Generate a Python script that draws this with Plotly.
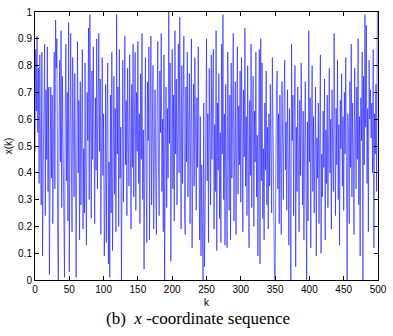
import plotly.graph_objects as go

x_k000 = [0.48, 0.86, 0.63, 0.91, 0.55, 0.79, 0.36, 0.84, 0.52, 0.28, 0.85, 0.09, 0.41, 0.66, 0.88, 0.24, 0.71, 0.45, 0.87, 0.33,
          0.72, 0.02, 0.64, 0.72, 0.38, 0.69, 0.21, 0.55, 0.85, 0.34, 0.97, 0.79, 0.90, 0.16, 0.00, 0.58, 0.82, 0.44, 0.93, 0.27,
          0.76, 0.49, 0.12, 0.01, 0.63, 0.88, 0.37, 0.70, 0.22, 0.96]
x_k050 = [0.03, 0.71, 0.92, 0.46, 0.18, 0.83, 0.59, 0.31, 0.77, 0.08, 0.01, 0.54, 0.89, 0.40, 0.67, 0.15, 0.74, 0.28, 0.61, 0.86,
          0.19, 0.49, 0.25, 0.81, 0.36, 0.13, 0.70, 0.52, 0.94, 0.30, 0.99, 0.62, 0.23, 0.78, 0.45, 0.87, 0.57, 0.21, 0.68, 0.41,
          0.90, 0.34, 0.63, 0.92, 0.48, 0.75, 0.17, 0.56, 0.83, 0.39]
x_k100 = [0.62, 0.09, 0.27, 0.73, 0.14, 0.58, 0.81, 0.06, 0.44, 0.01, 0.69, 0.25, 0.85, 0.11, 0.52, 0.76, 0.32, 0.64, 0.18, 0.99,
          0.47, 0.72, 0.20, 0.86, 0.38, 0.57, 0.00, 0.66, 0.82, 0.29, 0.54, 0.91, 0.43, 0.67, 0.24, 0.79, 0.51, 0.35, 0.84, 0.60,
          0.19, 0.73, 0.42, 0.88, 0.31, 0.62, 0.85, 0.26, 0.70, 0.48]
x_k150 = [0.89, 0.36, 0.62, 0.21, 0.77, 0.45, 0.92, 0.30, 0.56, 0.04, 0.68, 0.83, 0.39, 0.14, 0.74, 0.52, 0.87, 0.15, 0.63, 0.91,
          0.28, 0.57, 0.80, 0.19, 0.46, 0.71, 0.35, 0.17, 0.66, 0.89, 0.42, 0.24, 0.78, 0.55, 0.92, 0.33, 0.60, 0.18, 0.84, 0.00,
          0.47, 0.72, 0.27, 0.64, 0.38, 1.00, 0.51, 0.81, 0.07, 0.58]
x_k200 = [0.86, 0.34, 0.69, 0.22, 0.93, 0.47, 0.75, 0.28, 0.61, 0.88, 0.40, 0.98, 0.53, 0.19, 0.80, 0.36, 0.67, 0.91, 0.25, 0.17,
          0.72, 0.44, 0.85, 0.31, 0.58, 0.77, 0.21, 0.64, 0.90, 0.12, 0.49, 0.73, 0.35, 0.83, 0.56, 0.26, 0.68, 0.42, 0.87, 0.30,
          0.15, 0.61, 0.09, 0.43, 0.18, 0.00, 0.66, 0.05, 0.22, 0.71]
x_k250 = [0.90, 0.37, 0.62, 0.14, 0.79, 0.51, 0.28, 0.84, 0.45, 0.70, 0.86, 0.19, 0.58, 0.33, 0.93, 0.11, 0.66, 0.41, 0.77, 0.23,
          0.55, 0.14, 0.88, 0.47, 0.99, 0.30, 0.62, 0.13, 0.73, 0.40, 0.12, 0.85, 0.52, 0.26, 0.69, 0.15, 0.81, 0.38, 0.60, 0.92,
          0.22, 0.48, 0.74, 0.17, 0.57, 0.87, 0.32, 0.65, 0.43, 0.78]
x_k300 = [0.29, 0.83, 0.55, 0.18, 0.71, 0.46, 0.94, 0.35, 0.61, 0.24, 0.80, 0.50, 0.12, 0.67, 0.39, 0.88, 0.27, 0.58, 0.76, 0.20,
          0.63, 0.44, 0.85, 0.31, 0.54, 0.09, 0.72, 0.86, 0.06, 0.90, 0.37, 0.81, 0.23, 0.49, 0.15, 0.66, 0.41, 0.78, 0.28, 0.57,
          0.19, 0.62, 0.35, 0.73, 0.47, 0.25, 0.83, 0.52, 0.14, 0.03]
x_k350 = [0.00, 0.58, 0.71, 0.78, 0.34, 0.62, 0.21, 0.69, 0.45, 0.17, 0.74, 0.56, 0.30, 0.66, 0.82, 0.41, 0.59, 0.26, 0.71, 0.48,
          0.13, 0.64, 0.37, 0.00, 0.88, 0.52, 0.69, 0.24, 0.61, 0.80, 0.05, 0.57, 0.33, 0.72, 0.46, 0.18, 0.67, 0.39, 0.81, 0.55,
          0.28, 0.63, 0.15, 0.48, 0.74, 0.36, 0.00, 0.59, 0.22, 0.93]
x_k400 = [0.44, 0.68, 0.12, 0.57, 0.80, 0.33, 0.61, 0.25, 0.49, 0.72, 0.09, 0.53, 0.38, 0.66, 0.21, 0.58, 0.84, 0.10, 0.47, 0.31,
          0.63, 0.42, 0.75, 0.15, 0.56, 0.36, 0.69, 0.27, 0.51, 0.79, 0.40, 0.60, 0.19, 0.71, 0.45, 0.33, 0.92, 0.54, 0.24, 0.64,
          0.43, 0.82, 0.30, 0.58, 0.13, 0.67, 0.49, 0.77, 0.35, 0.61]
x_k450 = [0.26, 0.70, 0.47, 0.83, 0.38, 0.00, 0.62, 0.55, 0.21, 0.74, 0.42, 0.88, 0.31, 0.66, 0.50, 0.17, 0.79, 0.58, 0.34, 0.72,
          0.45, 0.90, 0.28, 0.61, 0.09, 0.68, 0.52, 0.85, 0.00, 0.76, 0.43, 0.99, 0.57, 0.95, 0.36, 0.64, 0.18, 0.82, 0.60, 0.71,
          0.53, 0.66, 0.40, 0.86, 0.12, 0.62, 0.47, 0.73, 0.33, 1.00]

x_values = x_k000 + x_k050 + x_k100 + x_k150 + x_k200 + x_k250 + x_k300 + x_k350 + x_k400 + x_k450
k_values = list(range(len(x_values)))

x_ticks = [0, 50, 100, 150, 200, 250, 300, 350, 400, 450, 500]
y_ticks = [0, 0.1, 0.2, 0.3, 0.4, 0.5, 0.6, 0.7, 0.8, 0.9, 1]
y_tick_labels = ["0", "0.1", "0.2", "0.3", "0.4", "0.5", "0.6", "0.7", "0.8", "0.9", "1"]

fig = go.Figure()
fig.add_trace(go.Scatter(x=k_values, y=x_values, mode="lines",
                         line=dict(color="rgb(20,20,255)", width=0.6), showlegend=False))

axis_common = dict(showgrid=False, zeroline=False, showline=True, linecolor="black", linewidth=1,
                   mirror="ticks", ticks="inside", ticklen=4, tickcolor="black",
                   ticklabeloverflow="allow",
                   tickfont=dict(family="Liberation Sans, Arial", size=10, color="black"))

fig.update_layout(
    width=393, height=336,
    margin=dict(l=35, r=9, t=6, b=56),
    paper_bgcolor="white", plot_bgcolor="white",
    xaxis=dict(range=[0, 500], tickvals=x_ticks, title=dict(text="k", standoff=4,
               font=dict(family="Liberation Sans, Arial", size=10, color="black")), **axis_common),
    yaxis=dict(range=[0, 1], tickvals=y_ticks, ticktext=y_tick_labels, title=dict(text="x(k)", standoff=3,
               font=dict(family="Liberation Sans, Arial", size=10, color="black")), **axis_common),
    annotations=[dict(text="(b)  <i>x</i> -coordinate sequence", xref="paper", yref="paper",
                      x=0.476, y=-0.145, xanchor="center", yanchor="middle", showarrow=False,
                      font=dict(family="Liberation Serif, Times New Roman", size=17, color="black"))],
)

fig.write_html("out.html", config={"displayModeBar": False},
               post_script="document.body.style.margin='0';document.body.style.padding='0';")
